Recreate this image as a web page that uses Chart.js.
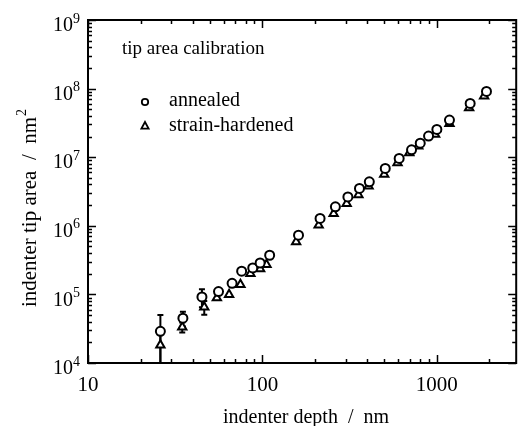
<!DOCTYPE html>
<html>
<head>
<meta charset="utf-8">
<script src="https://cdn.jsdelivr.net/npm/chart.js@4"></script>
<style>
  html, body { margin: 0; padding: 0; background: #fff; }
  #wrap { width: 523px; height: 426px; }
</style>
</head>
<body>
<div id="wrap"><canvas id="chart"></canvas></div>
<script>
// indenter depth (nm) and tip area (nm^2)
const depthAnnealed = [26, 35, 45, 56, 67, 76, 88, 97, 110, 161, 214, 262, 309, 360, 410, 506, 608, 716, 803, 896, 1000, 1181, 1552, 1925];
const areaAnnealed = [29000, 45000, 92000, 110000, 145000, 218000, 243000, 288000, 372000, 729000, 1.28e6, 1.89e6, 2.64e6, 3.5e6, 4.38e6, 6.85e6, 9.6e6, 1.28e7, 1.6e7, 2.03e7, 2.54e7, 3.48e7, 6.08e7, 9.1e7];
const errAnnealed = [21000, 11000, 27000];

const depthHardened = [26, 34.7, 46.4, 54.8, 64.4, 74.8, 85.3, 97, 105.5, 156, 210, 256, 304, 355, 406, 499, 595, 695, 782, 977, 1181, 1531, 1866];
const areaHardened = [18300, 33400, 65300, 88700, 99300, 139000, 201000, 236000, 272000, 583000, 1.02e6, 1.51e6, 2.11e6, 2.82e6, 3.78e6, 5.6e6, 8.28e6, 1.16e7, 1.45e7, 2.15e7, 3.1e7, 5.26e7, 7.78e7];
const errHardened = [12000, 5500, 15000];

const xTickValues = [10, 100, 1000];
const xTickLabels = ["10", "100", "1000"];
const yTickExponents = [4, 5, 6, 7, 8, 9];

const seriesNames = ["annealed", "strain-hardened"];
const panelTitle = "tip area calibration";
const xTitle = "indenter depth  /  nm";
const yTitle = "indenter tip area  /  nm";

const FONT = "'Liberation Serif', 'DejaVu Serif', serif";

function toPoints(xs, ys) {
  return xs.map((x, i) => ({ x: x, y: ys[i] }));
}

// error bars, ticks, labels and legend drawn with the chart's own scales
const decorations = {
  id: "decorations",
  beforeDatasetsDraw(chart) {
    const ctx = chart.ctx;
    const xs = chart.scales.x, ys = chart.scales.y;
    const a = chart.chartArea;
    ctx.save();
    ctx.beginPath();
    ctx.rect(a.left, a.top, a.right - a.left, a.bottom - a.top + 1);
    ctx.clip();
    ctx.strokeStyle = "#000";
    ctx.lineWidth = 2;
    const bars = [
      [depthAnnealed, areaAnnealed, errAnnealed],
      [depthHardened, areaHardened, errHardened],
    ];
    bars.forEach(([dx, dy, de]) => {
      de.forEach((e, i) => {
        const px = xs.getPixelForValue(dx[i]);
        const hi = ys.getPixelForValue(dy[i] + e);
        const lo = dy[i] - e > 0 ? ys.getPixelForValue(dy[i] - e) : a.bottom + 10;
        ctx.beginPath();
        ctx.moveTo(px, hi); ctx.lineTo(px, lo);
        ctx.moveTo(px - 3, hi); ctx.lineTo(px + 3, hi);
        ctx.moveTo(px - 3, lo); ctx.lineTo(px + 3, lo);
        ctx.stroke();
      });
    });
    ctx.restore();
  },
  afterDraw(chart) {
    const ctx = chart.ctx;
    const xs = chart.scales.x, ys = chart.scales.y;
    const a = chart.chartArea;
    ctx.save();
    ctx.strokeStyle = "#000";
    ctx.fillStyle = "#000";

    // frame
    ctx.lineWidth = 2;
    ctx.strokeRect(a.left, a.top, a.right - a.left, a.bottom - a.top);

    // ticks, all four sides, pointing inward
    ctx.lineWidth = 1.5;
    ctx.beginPath();
    for (let d = 10; d < 10000; d *= 10) {
      for (let m = 1; m < 10; m++) {
        const v = d * m;
        if (v < xs.min || v > xs.max) continue;
        const px = Math.round(xs.getPixelForValue(v)) + 0.5;
        const len = m === 1 ? 8 : 4;
        ctx.moveTo(px, a.bottom); ctx.lineTo(px, a.bottom - len);
        ctx.moveTo(px, a.top); ctx.lineTo(px, a.top + len);
      }
    }
    for (let p = 4; p <= 9; p++) {
      for (let m = 1; m < 10; m++) {
        const v = Math.pow(10, p) * m;
        if (v > ys.max) continue;
        const py = Math.round(ys.getPixelForValue(v)) + 0.5;
        const len = m === 1 ? 8 : 4;
        ctx.moveTo(a.left, py); ctx.lineTo(a.left + len, py);
        ctx.moveTo(a.right, py); ctx.lineTo(a.right - len, py);
      }
    }
    ctx.stroke();

    // x tick labels
    ctx.font = "21px " + FONT;
    ctx.textAlign = "center";
    ctx.textBaseline = "middle";
    xTickValues.forEach((v, i) => {
      ctx.fillText(xTickLabels[i], xs.getPixelForValue(v), a.bottom + 22);
    });

    // y tick labels, 10 with raised exponent
    yTickExponents.forEach((p) => {
      const py = ys.getPixelForValue(Math.pow(10, p));
      ctx.font = "14px " + FONT;
      const ew = ctx.measureText(String(p)).width;
      ctx.textAlign = "right";
      ctx.fillText(String(p), a.left - 8, py - 1);
      ctx.font = "20px " + FONT;
      ctx.fillText("10", a.left - 8 - ew, py + 6);
    });

    // axis titles
    ctx.font = "20px " + FONT;
    ctx.textAlign = "center";
    ctx.fillText(xTitle, 306, a.bottom + 55);

    ctx.save();
    ctx.translate(30, 208);
    ctx.rotate(-Math.PI / 2);
    ctx.font = "21px " + FONT;
    const tw = ctx.measureText(yTitle).width;
    ctx.fillText(yTitle, -4, 0);
    ctx.font = "14px " + FONT;
    ctx.textAlign = "left";
    ctx.fillText("2", -4 + tw / 2 + 1, -8);
    ctx.restore();

    // panel title and legend
    ctx.font = "19px " + FONT;
    ctx.textAlign = "left";
    ctx.fillText(panelTitle, a.left + 34, a.top + 29);
    ctx.font = "20px " + FONT;
    ctx.fillText(seriesNames[0], a.left + 81, a.top + 81);
    ctx.fillText(seriesNames[1], a.left + 81, a.top + 106);

    ctx.lineWidth = 1.8;
    ctx.fillStyle = "#fff";
    const mx = a.left + 57;
    ctx.beginPath();
    ctx.arc(mx, a.top + 82, 3.2, 0, Math.PI * 2);
    ctx.fill(); ctx.stroke();
    const ty = a.top + 106;
    ctx.beginPath();
    ctx.moveTo(mx, ty - 4); ctx.lineTo(mx + 3.6, ty + 2.6); ctx.lineTo(mx - 3.6, ty + 2.6);
    ctx.closePath();
    ctx.fill(); ctx.stroke();

    ctx.restore();
  },
};

new Chart(document.getElementById("chart"), {
  type: "scatter",
  data: {
    datasets: [
      {
        label: seriesNames[0],
        data: toPoints(depthAnnealed, areaAnnealed),
        pointStyle: "circle",
        pointRadius: 4.5,
        pointBorderWidth: 2,
        pointBackgroundColor: "#fff",
        pointBorderColor: "#000",
        order: 1,
      },
      {
        label: seriesNames[1],
        data: toPoints(depthHardened, areaHardened),
        pointStyle: "triangle",
        pointRadius: 4.8,
        pointBorderWidth: 2,
        pointBackgroundColor: "#fff",
        pointBorderColor: "#000",
        order: 2,
      },
    ],
  },
  options: {
    animation: false,
    responsive: true,
    maintainAspectRatio: false,
    layout: {
      padding: { left: 88, right: 5, top: 20, bottom: 63 },
    },
    plugins: {
      legend: { display: false },
      tooltip: { enabled: false },
    },
    scales: {
      x: { type: "logarithmic", min: 10, max: 2850, display: false },
      y: { type: "logarithmic", min: 1e4, max: 1e9, display: false },
    },
  },
  plugins: [decorations],
});
</script>
</body>
</html>
